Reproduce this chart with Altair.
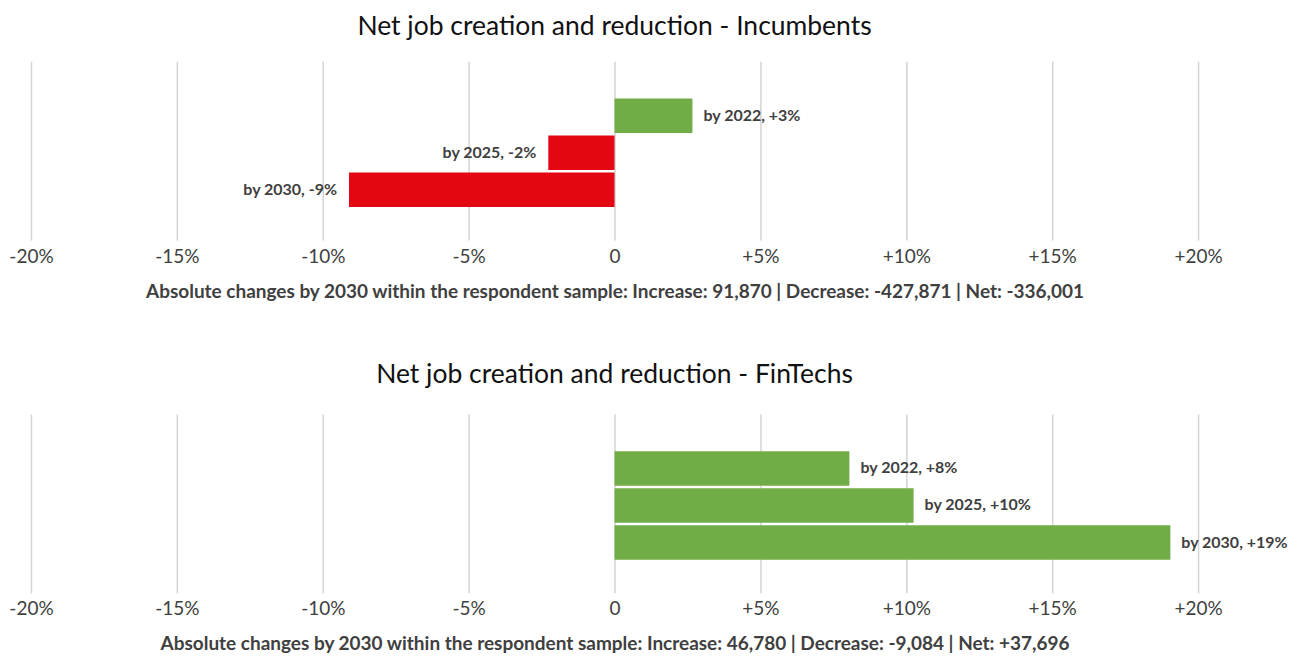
import altair as alt
import pandas as pd

years = ["2022", "2025", "2030"]
incumbents = [2.67, -2.27, -9.1]
incumbent_labels = ["by 2022, +3%", "by 2025, -2%", "by 2030, -9%"]
fintechs = [8.05, 10.25, 19.05]
fintech_labels = ["by 2022, +8%", "by 2025, +10%", "by 2030, +19%"]

titles = ["Net job creation and reduction - Incumbents",
          "Net job creation and reduction - FinTechs"]
footnotes = [
    "Absolute changes by 2030 within the respondent sample: Increase: 91,870 | Decrease: -427,871 | Net: -336,001",
    "Absolute changes by 2030 within the respondent sample:  Increase: 46,780 | Decrease: -9,084 | Net: +37,696",
]
tick_values = [-20, -15, -10, -5, 0, 5, 10, 15, 20]

GREEN = "#70AD47"
RED = "#E30613"
TEXT = "#404040"


def panel(values, labels, title, footnote, title_offset):
    df = pd.DataFrame({"year": years, "value": values, "label": labels})
    xscale = alt.Scale(domain=[-20, 20], nice=False, zero=True)
    yscale = alt.Scale(domain=years, paddingInner=0.07, paddingOuter=0.95, align=0.53)
    base = alt.Chart(df).encode(
        y=alt.Y("year:N", scale=yscale, axis=None, sort=years),
    )
    bars = base.mark_bar().encode(
        x=alt.X("value:Q", scale=xscale,
                axis=alt.Axis(values=tick_values, title=footnote, labelFlush=False,
                              labelExpr="datum.value > 0 ? '+' + datum.value + '%' : (datum.value == 0 ? '0' : datum.value + '%')")),
        color=alt.condition(alt.datum.value >= 0, alt.value(GREEN), alt.value(RED)),
    )
    pos = base.transform_filter(alt.datum.value >= 0).mark_text(
        align="left", baseline="middle", dx=11, font="Lato", fontWeight="bold",
        fontSize=16, color=TEXT,
    ).encode(x=alt.X("value:Q", scale=xscale), text="label:N")
    neg = base.transform_filter(alt.datum.value < 0).mark_text(
        align="right", baseline="middle", dx=-12, font="Lato", fontWeight="bold",
        fontSize=16, color=TEXT,
    ).encode(x=alt.X("value:Q", scale=xscale), text="label:N")
    return alt.layer(bars, pos, neg).properties(
        width=1168, height=179,
        title=alt.TitleParams(title, fontSize=26.5, font="Lato", fontWeight="normal",
                              color="#111111", offset=title_offset, anchor="middle"),
    )


chart = alt.vconcat(
    panel(incumbents, incumbent_labels, titles[0], footnotes[0], 21),
    panel(fintechs, fintech_labels, titles[1], footnotes[1], 25),
    spacing=61,
).properties(padding={"top": 5, "left": 0, "right": 0, "bottom": 0}).configure_view(stroke=None).configure_axis(
    grid=True, gridColor="#d4d4d4", gridWidth=1.5, domain=False, ticks=False,
    labelFont="Lato", labelFontSize=19, labelColor=TEXT, labelPadding=7,
    titleFont="Lato", titleFontSize=19, titleFontWeight="bold", titleColor=TEXT,
    titlePadding=16,
)

chart.save("out.html", embed_options={"renderer": "svg", "actions": False})
